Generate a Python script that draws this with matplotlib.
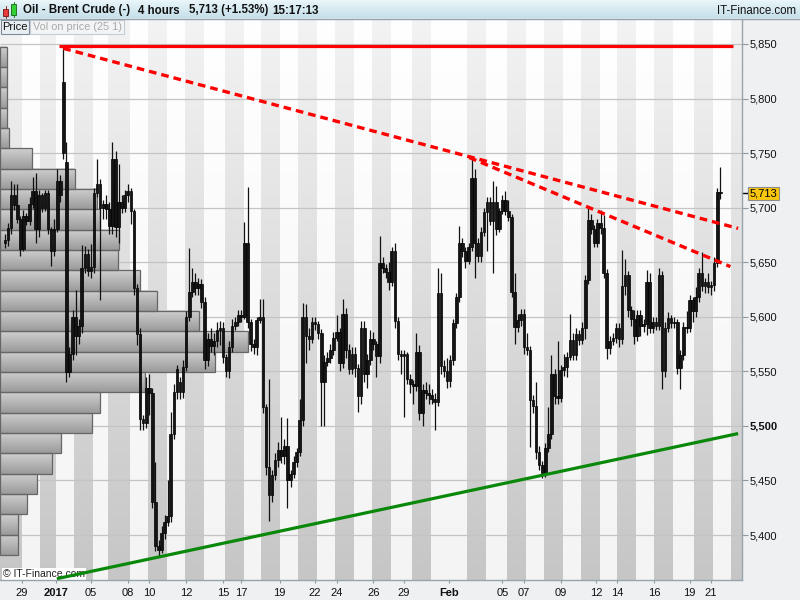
import matplotlib
matplotlib.use("Agg")
import matplotlib.pyplot as plt
import numpy as np
from matplotlib.colors import LinearSegmentedColormap
from matplotlib.patches import Rectangle
from matplotlib.transforms import blended_transform_factory

plt.rcParams["font.family"] = ["Liberation Sans", "DejaVu Sans"]

# Brent crude, 4-hour candles, oldest first
opens = [
    5668, 5670, 5681, 5712, 5702, 5690, 5662, 5692, 5688, 5703,
    5715, 5680, 5712, 5700, 5713, 5680, 5660, 5680, 5724, 5750,
    5742, 5549, 5566, 5600, 5582, 5592, 5645, 5658, 5642, 5646,
    5713, 5722, 5700, 5703, 5699, 5683, 5745, 5682, 5705, 5700,
    5712, 5715, 5697, 5626, 5584, 5506, 5503, 5535, 5530, 5430,
    5390, 5386, 5402, 5412, 5417, 5493, 5531, 5540, 5531, 5554,
    5600, 5623, 5632, 5626, 5630, 5614, 5560, 5580, 5573, 5578,
    5588, 5590, 5563, 5550, 5572, 5592, 5595, 5602, 5600, 5668,
    5595, 5575, 5572, 5597, 5600, 5517, 5462, 5437, 5455, 5469,
    5478, 5472, 5482, 5450, 5456, 5467, 5476, 5505, 5600, 5582,
    5580, 5595, 5593, 5585, 5540, 5559, 5562, 5570, 5581, 5586,
    5558, 5603, 5570, 5552, 5566, 5553, 5527, 5590, 5548, 5560,
    5580, 5575, 5564, 5649, 5645, 5641, 5632, 5660, 5596, 5566,
    5564, 5566, 5543, 5538, 5537, 5568, 5512, 5533, 5530, 5528,
    5525, 5522, 5622, 5555, 5550, 5541, 5560, 5594, 5618, 5668,
    5660, 5651, 5664, 5727, 5668, 5656, 5678, 5696, 5705, 5688,
    5705, 5680, 5697, 5707, 5697, 5691, 5623, 5591, 5597, 5603,
    5572, 5570, 5524, 5518, 5476, 5464, 5456, 5480, 5493, 5548,
    5527, 5526, 5551, 5554, 5563, 5579, 5565, 5584, 5579, 5590,
    5634, 5689, 5680, 5668, 5686, 5681, 5640, 5571, 5578, 5581,
    5590, 5580, 5628, 5638, 5606, 5598, 5582, 5602, 5592, 5593,
    5632, 5590, 5595, 5592, 5638, 5550, 5590, 5599, 5594, 5595,
    5553, 5565, 5591, 5590, 5615, 5605, 5618, 5640, 5628, 5632,
    5627, 5629, 5649, 5714,
]
highs = [
    5676, 5686, 5724, 5722, 5722, 5692, 5698, 5695, 5710, 5728,
    5732, 5716, 5713, 5716, 5716, 5682, 5690, 5735, 5730, 5848,
    5760, 5572, 5606, 5625, 5598, 5666, 5665, 5662, 5667, 5718,
    5745, 5726, 5707, 5712, 5705, 5760, 5752, 5740, 5712, 5716,
    5722, 5718, 5699, 5630, 5590, 5510, 5545, 5548, 5535, 5467,
    5395, 5408, 5418, 5450, 5513, 5538, 5556, 5545, 5560, 5605,
    5663, 5645, 5640, 5636, 5635, 5618, 5585, 5590, 5585, 5595,
    5596, 5595, 5566, 5578, 5598, 5600, 5606, 5606, 5687, 5719,
    5598, 5580, 5600, 5616, 5616, 5520, 5543, 5460, 5475, 5485,
    5508, 5488, 5507, 5460, 5472, 5480, 5525, 5613, 5612, 5590,
    5600, 5600, 5596, 5589, 5565, 5568, 5575, 5586, 5602, 5590,
    5616, 5608, 5575, 5572, 5572, 5557, 5596, 5596, 5566, 5588,
    5586, 5578, 5674, 5655, 5648, 5650, 5664, 5668, 5600, 5570,
    5570, 5568, 5548, 5542, 5585, 5574, 5538, 5540, 5538, 5534,
    5530, 5645, 5640, 5560, 5562, 5565, 5598, 5622, 5683, 5672,
    5664, 5668, 5746, 5735, 5672, 5682, 5700, 5710, 5710, 5724,
    5720, 5700, 5712, 5715, 5707, 5694, 5640, 5603, 5607, 5607,
    5585, 5573, 5528, 5540, 5482, 5468, 5484, 5517, 5565, 5552,
    5578, 5556, 5566, 5568, 5603, 5585, 5590, 5588, 5595, 5638,
    5701, 5694, 5684, 5690, 5698, 5693, 5644, 5582, 5585, 5594,
    5594, 5661, 5653, 5642, 5610, 5606, 5606, 5606, 5598, 5643,
    5640, 5600, 5600, 5645, 5642, 5595, 5604, 5602, 5600, 5598,
    5570, 5595, 5605, 5620, 5618, 5627, 5645, 5659, 5636, 5640,
    5633, 5655, 5718, 5737,
]
lows = [
    5663, 5665, 5676, 5698, 5686, 5656, 5660, 5684, 5684, 5700,
    5668, 5673, 5696, 5697, 5676, 5647, 5656, 5678, 5705, 5745,
    5540, 5545, 5560, 5565, 5575, 5585, 5640, 5637, 5636, 5640,
    5710, 5615, 5690, 5690, 5676, 5676, 5673, 5668, 5695, 5696,
    5705, 5685, 5620, 5574, 5496, 5496, 5498, 5510, 5425, 5385,
    5380, 5384, 5396, 5408, 5412, 5488, 5525, 5525, 5526, 5550,
    5596, 5618, 5620, 5620, 5608, 5552, 5555, 5568, 5565, 5572,
    5574, 5558, 5545, 5544, 5568, 5588, 5592, 5595, 5598, 5590,
    5569, 5566, 5565, 5594, 5512, 5455, 5413, 5430, 5450, 5462,
    5466, 5465, 5425, 5444, 5452, 5462, 5472, 5500, 5558, 5570,
    5576, 5588, 5580, 5500, 5500, 5555, 5558, 5565, 5578, 5550,
    5553, 5562, 5548, 5548, 5545, 5513, 5520, 5540, 5535, 5556,
    5570, 5545, 5558, 5640, 5636, 5625, 5628, 5590, 5560, 5548,
    5508, 5538, 5530, 5520, 5532, 5505, 5500, 5525, 5520, 5520,
    5496, 5518, 5548, 5545, 5535, 5536, 5556, 5590, 5614, 5655,
    5645, 5648, 5660, 5636, 5650, 5650, 5674, 5660, 5684, 5640,
    5675, 5678, 5694, 5693, 5688, 5618, 5575, 5586, 5592, 5566,
    5565, 5481, 5512, 5470, 5460, 5452, 5453, 5476, 5488, 5520,
    5520, 5522, 5546, 5545, 5560, 5560, 5560, 5574, 5575, 5580,
    5630, 5676, 5664, 5664, 5676, 5636, 5561, 5566, 5574, 5576,
    5572, 5575, 5620, 5600, 5592, 5575, 5578, 5582, 5586, 5583,
    5585, 5585, 5588, 5588, 5534, 5545, 5586, 5590, 5590, 5548,
    5534, 5560, 5585, 5586, 5595, 5600, 5614, 5624, 5622, 5622,
    5620, 5624, 5646, 5708,
]
closes = [
    5670, 5681, 5712, 5702, 5690, 5662, 5692, 5688, 5703, 5715,
    5680, 5712, 5700, 5713, 5680, 5660, 5680, 5724, 5712, 5815,
    5549, 5566, 5600, 5582, 5592, 5645, 5658, 5642, 5646, 5713,
    5722, 5700, 5703, 5699, 5683, 5745, 5682, 5705, 5700, 5712,
    5715, 5697, 5626, 5584, 5506, 5503, 5535, 5530, 5430, 5390,
    5386, 5402, 5412, 5417, 5493, 5531, 5552, 5531, 5554, 5600,
    5623, 5632, 5626, 5630, 5614, 5560, 5580, 5573, 5578, 5588,
    5590, 5563, 5550, 5572, 5592, 5595, 5602, 5600, 5668, 5595,
    5575, 5572, 5597, 5600, 5517, 5462, 5437, 5455, 5469, 5478,
    5472, 5482, 5450, 5456, 5467, 5476, 5505, 5600, 5582, 5580,
    5595, 5593, 5585, 5540, 5559, 5562, 5570, 5581, 5586, 5558,
    5603, 5570, 5552, 5566, 5553, 5527, 5590, 5548, 5560, 5580,
    5575, 5564, 5649, 5645, 5641, 5632, 5660, 5596, 5566, 5564,
    5566, 5543, 5538, 5537, 5568, 5512, 5533, 5530, 5528, 5525,
    5522, 5622, 5555, 5550, 5541, 5560, 5594, 5618, 5668, 5660,
    5651, 5664, 5727, 5668, 5656, 5678, 5696, 5705, 5688, 5705,
    5680, 5697, 5707, 5697, 5691, 5623, 5591, 5597, 5603, 5572,
    5570, 5524, 5518, 5476, 5464, 5456, 5480, 5493, 5548, 5527,
    5526, 5551, 5554, 5563, 5579, 5565, 5584, 5579, 5590, 5634,
    5689, 5680, 5668, 5686, 5681, 5640, 5571, 5578, 5581, 5590,
    5580, 5628, 5638, 5606, 5598, 5582, 5602, 5592, 5593, 5632,
    5590, 5595, 5592, 5638, 5550, 5590, 5599, 5594, 5595, 5553,
    5565, 5591, 5590, 5615, 5605, 5618, 5640, 5628, 5632, 5627,
    5629, 5649, 5714, 5713,
]
last_price = 5713

# volume at price, 25 buckets from the lowest low upwards
profile_bottom = 5381.6
profile_step = 18.64
profile_volume = [18, 18, 27, 37, 52, 61, 92, 100, 145, 215, 248, 199, 157,
                  140, 118, 119, 100, 97, 75, 32, 9, 7, 7, 7, 7]

# shaded trading days (candle index ranges) and date labels
shaded_days = [(-2, 5.5), (11.5, 16.5), (22.5, 28.5), (33.5, 40.5), (46.5, 52.5),
               (58.5, 64.5), (71.5, 77.5), (83.5, 89.5), (95.5, 101.5), (107.5, 113.5),
               (119.5, 125.5), (132.5, 138.5), (150.5, 156.5), (163.5, 169.5),
               (175.5, 181.5), (187.5, 193.5), (199.5, 205.5), (211.5, 217.5),
               (224.5, 230.5), (236.5, 242)]
day_ticks = [5.5, 16.5, 28, 40, 47, 59, 71, 77, 89.5, 101, 108, 120, 130, 144.5,
             162, 169, 181, 192.5, 199.5, 211.5, 223, 230]
day_labels = ["29", "2017", "05", "08", "10", "12", "15", "17", "19", "22", "24",
              "26", "29", "Feb", "05", "07", "09", "12", "14", "16", "19", "21"]
bold_labels = ["2017", "Feb"]

price_ticks = [5400, 5450, 5500, 5550, 5600, 5650, 5700, 5750, 5800, 5850]

# drawn lines: (candle index, price) end points
flat_x, flat_y = [17.5, 237.0], [5848, 5848]
res1_x, res1_y = [19, 238.8], [5846, 5681]
res2_x, res2_y = [151.2, 236.3], [5746, 5646]
sup_x, sup_y = [16.9, 238.8], [5360, 5493]

W, H = 800, 600
rect = [0, (H - 580) / H, 742 / W, (580 - 19) / H]
xlim = (-1.63, 240.07)
ylim = (5358.8, 5872.9)
grad = np.linspace(0, 1, 200).reshape(-1, 1)


def vgrad(axis, extent, top, bottom, z=0):
    cmap = LinearSegmentedColormap.from_list("g", [top, bottom])
    axis.imshow(grad, cmap=cmap, vmin=0, vmax=1, extent=extent, aspect="auto",
                origin="upper", zorder=z, interpolation="bilinear")


fig = plt.figure(figsize=(8, 6), dpi=100)
fig.patch.set_facecolor("#eef0f2")

ax_bg = fig.add_axes(rect, zorder=0)
ax_prof = fig.add_axes(rect, zorder=1)
ax = fig.add_axes(rect, zorder=2)
ax_top = fig.add_axes([0, 0, 1, 1], zorder=3)

# --- background day bands + grid
vgrad(ax_bg, (xlim[0], xlim[1], ylim[0], ylim[1]), "#ffffff", "#f4f4f4")
for a, b in shaded_days:
    vgrad(ax_bg, (a, b, ylim[0], ylim[1]), "#f3f3f3", "#c6c6c6", z=1)
ax_bg.hlines(price_ticks, xlim[0], xlim[1], color="#c4c4c4", lw=0.9, zorder=2)
ax_bg.set_xlim(xlim)
ax_bg.set_ylim(ylim)
ax_bg.axis("off")

# --- volume profile
for k, vol in enumerate(profile_volume):
    y0 = profile_bottom + k * profile_step
    vgrad(ax_prof, (0, vol, y0, y0 + profile_step), "#d0d0d0", "#9a9a9a", z=1)
    ax_prof.add_patch(Rectangle((0, y0), vol, profile_step, fill=False,
                                edgecolor="#666666", lw=0.9, zorder=2))
ax_prof.set_xlim(0, 742)
ax_prof.set_ylim(ylim)
ax_prof.axis("off")

# --- candles
o = np.array(opens)
c = np.array(closes)
x = np.arange(len(closes))
ax.vlines(x, lows, highs, color="#111111", lw=0.9, zorder=3)
ax.bar(x, np.maximum(np.abs(c - o), 0.8), bottom=np.minimum(o, c), width=0.86,
       color="#141414", edgecolor="#000000", linewidth=0.5, zorder=4)

# --- trend lines
ax.plot(flat_x, flat_y, color="#ff0000", lw=2.3, solid_capstyle="butt", zorder=5)
ax.plot(res1_x, res1_y, color="#ff0000", lw=2.4, dashes=(2.3, 1.5), zorder=5)
ax.plot(res2_x, res2_y, color="#ff0000", lw=2.4, dashes=(2.3, 1.5), zorder=5)
ax.plot(sup_x, sup_y, color="#0a880a", lw=2.3, solid_capstyle="butt", zorder=5)

ax.set_xlim(xlim)
ax.set_ylim(ylim)
ax.set_facecolor("none")
for side in ["top", "left"]:
    ax.spines[side].set_visible(False)
for side in ["right", "bottom"]:
    ax.spines[side].set_color("#98a4ac")
    ax.spines[side].set_linewidth(1.0)

ax.yaxis.tick_right()
ax.set_yticks(price_ticks, labels=[f"{p:,}" for p in price_ticks])
ax.tick_params(axis="y", length=4.3, width=0.8, color="#8c98a2", labelsize=8,
               pad=1.5, labelcolor="#111111")
for lab, p in zip(ax.get_yticklabels(), price_ticks):
    if p == 5500:
        lab.set_fontweight("bold")

ax.set_xticks(day_ticks, labels=day_labels)
ax.tick_params(axis="x", length=2.5, width=0.8, color="#8c98a2", labelsize=8,
               pad=3, labelcolor="#111111")
for lab in ax.get_xticklabels():
    if lab.get_text() in bold_labels:
        lab.set_fontweight("bold")

# last price tag
trans = blended_transform_factory(ax.transAxes, ax.transData)
ax.plot([1.0, 1.0 + 6 / 742], [last_price, last_price], transform=trans,
        color="black", lw=1, clip_on=False)
ax.text(1.0 + 8 / 742, last_price, f"{last_price:,}", transform=trans, fontsize=8,
        va="center", ha="left", clip_on=False,
        bbox=dict(boxstyle="square,pad=0.15", fc="#f8c60c", ec="#8c8c8c", lw=0.8))

# --- header, tabs, copyright (pixel coordinates)
ax_top.set_xlim(0, W)
ax_top.set_ylim(H, 0)
ax_top.axis("off")
ax_top.set_autoscale_on(False)
vgrad(ax_top, (0, W, 18, 0), "#eaf6fa", "#c5dfe9")
ax_top.plot([0, W], [18.5, 18.5], color="#8fa2ad", lw=1)
ax_top.add_patch(Rectangle((3, 9), 5, 7, fc="#e53b3b", ec="#7a1010", lw=0.6))
ax_top.plot([5.5, 5.5], [6, 18], color="#7a1010", lw=0.6, zorder=0)
ax_top.add_patch(Rectangle((11, 4), 5, 11, fc="#35d035", ec="#116611", lw=0.6))
ax_top.plot([13.5, 13.5], [1.5, 17], color="#116611", lw=0.6, zorder=0)

hdr = dict(fontsize=8.3, fontweight="bold", va="center", ha="left", color="#111111")
ax_top.text(23, 10.5, "Oil - Brent Crude (-)", **hdr)
ax_top.text(138, 10.5, "4 hours", **hdr)
ax_top.text(189, 10.5, "5,713 (+1.53%)", **hdr)
ax_top.text(272, 10.5, "15:17:13", **hdr)
ax_top.text(796, 10.5, "IT-Finance.com", fontsize=8.3, va="center", ha="right",
            color="#111111")

ax_top.add_patch(Rectangle((1, 19.5), 28, 14, fc="#e8eff3", ec="#7c8c98", lw=0.8))
ax_top.text(15, 26.5, "Price", fontsize=8, va="center", ha="center", color="#111111")
ax_top.add_patch(Rectangle((30, 19.5), 94, 14, fc="#f3f4f5", ec="#c5cdd2", lw=0.8))
ax_top.text(77, 26.5, "Vol on price (25 1)", fontsize=7.8, va="center", ha="center",
            color="#a9a9a9")

ax_bg.text(3, 574, "\u00a9 IT-Finance.com", transform=ax_top.transData, fontsize=7.5,
           va="center", ha="left", color="#222222", zorder=3,
           bbox=dict(fc="white", ec="none", pad=0.6))

fig.savefig("out.png", dpi=100)
